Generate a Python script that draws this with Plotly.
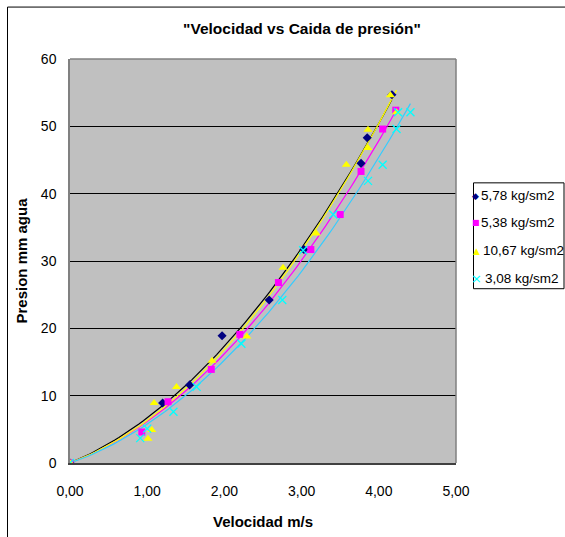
import numpy as np
import plotly.graph_objects as go

# --- data ---
series_names = ["5,78 kg/sm2", "5,38 kg/sm2", "10,67 kg/sm2", "3,08 kg/sm2"]

x_578 = [0.0, 1.20, 1.55, 1.97, 2.58, 3.03, 3.77, 3.85, 4.17]
y_578 = [0.0, 8.9, 11.6, 18.9, 24.2, 31.7, 44.5, 48.3, 54.7]

x_538 = [0.0, 0.93, 1.27, 1.83, 2.20, 2.70, 3.12, 3.50, 3.77, 4.05, 4.22]
y_538 = [0.0, 4.6, 9.1, 13.9, 19.1, 26.8, 31.7, 36.9, 43.3, 49.6, 52.4]

x_1067 = [0.0, 1.01, 1.06, 1.09, 1.38, 1.84, 2.29, 2.76, 3.19, 3.58, 3.86, 3.86, 4.15, 4.23]
y_1067 = [0.0, 3.6, 4.9, 8.9, 11.3, 15.2, 18.8, 29.0, 34.1, 44.3, 46.8, 49.5, 54.6, 52.1]

x_308 = [0.0, 0.91, 1.00, 1.34, 1.64, 2.22, 2.75, 3.02, 3.41, 3.86, 4.05, 4.23, 4.25, 4.41]
y_308 = [0.0, 3.7, 5.1, 7.6, 11.3, 17.7, 24.2, 31.6, 36.9, 41.9, 44.3, 49.6, 52.1, 52.1]

x_ticks = [0, 1, 2, 3, 4, 5]
x_tick_labels = ["0,00", "1,00", "2,00", "3,00", "4,00", "5,00"]
y_ticks = [0, 10, 20, 30, 40, 50, 60]

xs = [x_578, x_538, x_1067, x_308]
ys = [y_578, y_538, y_1067, y_308]
marker_colors = ["#000080", "#FF00FF", "#FFFF00", "#00FFFF"]
line_colors = ["#000000", "#FF00FF", "#FFFF00", "#33CCFF"]
symbols = ["diamond", "square", "triangle-up", "x-thin-open"]
sizes = [7, 7, 8, 8]
legend_glyphs = ["◆", "■", "▲", "×"]
legend_glyph_sizes = [9, 8, 9, 13]

FONT = "Liberation Sans, Arial, sans-serif"
W, H = 565, 537
L, R, T, B = 70, 456, 58.5, 463  # plot-area edges in px

# legend layout (pixel positions of the hand-made legend)
LEG_BOX = (473.5, 564, 182.5, 288.5)
LEG_ROW_Y = [195, 222, 250, 278]
LEG_SYM_X = [475.5, 475.5, 476.5, 476.5]
LEG_TXT_X = [479, 479, 481, 483]


def px_x(p):
    return (p - L) / (R - L)


def px_y(p):
    return (B - p) / (B - T)


fig = go.Figure()

# trendlines: 2nd-order polynomial through the origin (least squares)
for i in range(4):
    xa = np.array(xs[i])
    ya = np.array(ys[i])
    A = np.column_stack([xa, xa ** 2])
    c, *_ = np.linalg.lstsq(A, ya, rcond=None)
    xx = np.linspace(0, xa.max(), 80)
    fig.add_trace(go.Scatter(x=xx, y=c[0] * xx + c[1] * xx ** 2, mode="lines",
                             line=dict(color=line_colors[i], width=1.2),
                             showlegend=False, hoverinfo="skip"))

for i in range(4):
    mk = dict(color=marker_colors[i], size=sizes[i], symbol=symbols[i])
    if symbols[i] == "x-thin-open":
        mk["line"] = dict(color=marker_colors[i], width=1.3)
    else:
        mk["line"] = dict(width=0)
    fig.add_trace(go.Scatter(x=xs[i], y=ys[i], mode="markers", name=series_names[i],
                             marker=mk, showlegend=False))

# hand-made legend (glyph keys + labels)
for i in range(4):
    fig.add_annotation(text=legend_glyphs[i], xref="paper", yref="paper",
                       x=px_x(LEG_SYM_X[i]), y=px_y(LEG_ROW_Y[i] + 0.5),
                       xanchor="center", yanchor="middle", showarrow=False,
                       font=dict(size=legend_glyph_sizes[i], family="DejaVu Sans",
                                 color=marker_colors[i]))
    fig.add_annotation(text=series_names[i], xref="paper", yref="paper",
                       x=px_x(LEG_TXT_X[i]), y=px_y(LEG_ROW_Y[i]),
                       xanchor="left", yanchor="middle", showarrow=False,
                       font=dict(size=13.5, family=FONT, color="black"))

fig.update_layout(
    width=W, height=H,
    margin=dict(l=L, r=W - R, t=T, b=H - B, autoexpand=False),
    paper_bgcolor="white", plot_bgcolor="#C0C0C0",
    font=dict(family=FONT, size=12, color="black"),
    showlegend=False,
    title=dict(text="\"Velocidad vs Caida de presión\"", x=302 / W, xanchor="center",
               y=1 - 29 / H, yanchor="middle",
               font=dict(family=FONT, size=15.5, color="black", weight="bold")),
    xaxis=dict(range=[0, 5], tickvals=x_ticks, ticktext=x_tick_labels,
               showgrid=False, zeroline=False, showline=True, linecolor="#404040",
               linewidth=1.5, ticks="", ticklabelstandoff=14,
               tickfont=dict(size=14),
               title=dict(text="Velocidad m/s", standoff=19,
                          font=dict(size=15, weight="bold"))),
    yaxis=dict(range=[0, 60], tickvals=y_ticks, showgrid=True, gridcolor="#000000",
               gridwidth=1, zeroline=False, showline=True, linecolor="#808080",
               linewidth=1.5, ticks="", ticklabelstandoff=9, tickfont=dict(size=14),
               title=dict(text="Presion mm agua", standoff=10,
                          font=dict(size=15, weight="bold"))),
)

# plot-area frame (top and right in grey)
fig.add_shape(type="line", xref="paper", yref="paper", x0=0, x1=1, y0=1, y1=1,
              line=dict(color="#808080", width=1.5))
fig.add_shape(type="line", xref="paper", yref="paper", x0=1, x1=1, y0=0, y1=1,
              line=dict(color="#808080", width=1.5))
# legend box
fig.add_shape(type="rect", xref="paper", yref="paper",
              x0=px_x(LEG_BOX[0]), x1=px_x(LEG_BOX[1]), y0=px_y(LEG_BOX[3]), y1=px_y(LEG_BOX[2]),
              line=dict(color="black", width=1), fillcolor="rgba(0,0,0,0)")
# outer chart border (left and top visible)
fig.add_shape(type="line", xref="paper", yref="paper",
              x0=px_x(7.5), x1=px_x(7.5), y0=px_y(560), y1=px_y(6.5),
              line=dict(color="black", width=1))
fig.add_shape(type="line", xref="paper", yref="paper",
              x0=px_x(7.5), x1=px_x(600), y0=px_y(6.5), y1=px_y(6.5),
              line=dict(color="black", width=1))

fig.write_html("out.html")
